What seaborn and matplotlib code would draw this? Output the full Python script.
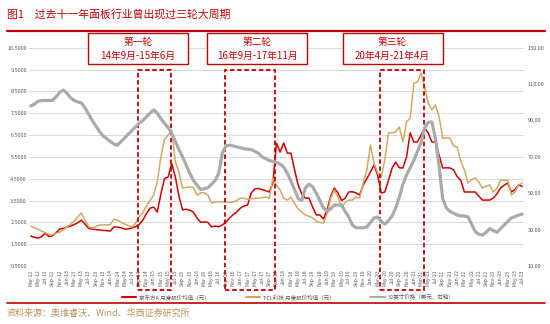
import numpy as np
import pandas as pd
import matplotlib
matplotlib.use('Agg')
import matplotlib.pyplot as plt
import seaborn as sns
from matplotlib import transforms
from matplotlib.patches import Rectangle
from matplotlib.lines import Line2D

sns.set_theme(style='white')
plt.rcParams['font.family'] = ['Noto Sans CJK SC', 'DejaVu Sans']
plt.rcParams['axes.unicode_minus'] = False

# monthly categories Mar-12 .. Jul-23
months = pd.date_range('2012-03-01', periods=137, freq='MS').strftime('%b-%y').tolist()

boe = [1.87, 1.82, 1.78, 1.85, 2.00, 1.85, 1.88, 2.02, 2.19, 2.22,
       2.29, 2.33, 2.40, 2.48, 2.60, 2.42, 2.22, 2.19, 2.17, 2.15,
       2.13, 2.12, 2.10, 2.29, 2.28, 2.25, 2.19, 2.20, 2.24, 2.30,
       2.40, 2.60, 2.90, 3.15, 3.20, 2.97, 3.80, 4.50, 4.58, 5.20,
       4.58, 3.70, 3.07, 3.10, 3.05, 2.97, 2.70, 2.50, 2.52, 2.50,
       2.29, 2.33, 2.30, 2.38, 2.50, 2.70, 2.85, 2.97, 3.15, 3.25,
       3.29, 3.84, 4.03, 4.05, 4.00, 3.95, 3.89, 4.30, 6.13, 5.72,
       6.13, 5.67, 5.67, 4.90, 4.21, 3.80, 3.61, 3.61, 3.20, 2.84,
       2.84, 2.65, 3.07, 3.70, 4.07, 3.85, 3.50, 3.60, 3.89, 3.90,
       3.85, 3.75, 4.21, 4.50, 4.80, 5.12, 4.66, 3.84, 3.89, 4.43,
       4.99, 5.26, 5.00, 4.99, 5.50, 6.60, 6.18, 6.18, 6.50, 6.82,
       6.60, 6.18, 6.18, 5.58, 4.99, 5.00, 4.99, 4.90, 4.60, 4.43,
       3.89, 3.89, 3.89, 3.89, 3.70, 3.52, 3.52, 3.52, 3.61, 3.80,
       4.07, 4.20, 4.30, 3.89, 4.00, 4.21, 4.15]

tcl = [2.33, 2.25, 2.18, 2.10, 2.02, 1.95, 1.92, 2.00, 2.05, 2.15,
       2.30, 2.40, 2.55, 2.75, 2.93, 2.60, 2.30, 2.24, 2.30, 2.38,
       2.38, 2.38, 2.40, 2.65, 2.60, 2.50, 2.42, 2.35, 2.29, 2.45,
       2.75, 2.95, 3.25, 3.50, 3.75, 4.34, 5.50, 6.30, 6.50, 6.73,
       5.26, 4.80, 4.07, 4.10, 4.12, 4.10, 3.75, 3.85, 3.85, 3.75,
       3.38, 3.43, 3.45, 3.43, 3.43, 3.42, 3.43, 3.50, 3.61, 3.60,
       3.55, 3.58, 3.60, 3.61, 3.63, 3.66, 3.60, 4.53, 4.20, 3.98,
       3.60, 3.52, 3.66, 3.38, 3.10, 2.97, 2.84, 2.78, 2.70, 2.55,
       2.50, 2.47, 2.90, 3.61, 3.98, 3.66, 3.20, 3.40, 3.52, 3.52,
       3.66, 3.61, 4.30, 4.90, 6.04, 5.20, 4.76, 4.58, 5.40, 6.59,
       6.60, 6.64, 6.87, 6.18, 7.10, 7.28, 8.88, 8.93, 9.34, 8.70,
       7.96, 7.65, 7.87, 7.33, 6.36, 6.36, 6.36, 6.00, 5.95, 5.30,
       4.90, 4.30, 4.45, 4.53, 4.34, 4.07, 4.15, 4.21, 3.89, 4.05,
       4.43, 4.43, 4.43, 3.75, 3.89, 4.21, 4.30]

panel = [98, 99, 100.5, 101, 101, 101, 101, 103, 105.5, 106.7,
         105, 102.5, 101, 100.2, 99.6, 97, 93.5, 90, 87, 84,
         81.5, 80, 78.5, 77, 76.5, 78.5, 80.5, 82.5, 84.5, 86.5,
         88.5, 90, 92, 94, 95.8, 94, 91, 88.5, 86, 83,
         78.5, 74, 70, 65.5, 61, 57, 54.5, 52, 52.5, 53,
         55, 57, 61, 72, 76, 76.5, 76, 75.5, 75, 74.5,
         74.2, 74, 73, 72, 70, 69, 68, 67.5, 67, 66,
         64.4, 61, 56.5, 52, 47, 46, 53, 55, 53.5, 50,
         46, 42, 40, 41.5, 43.5, 43.5, 43.5, 40, 37, 32.5,
         31, 31, 31, 31.4, 34, 36.4, 37, 34.5, 33, 35,
         37.5, 42, 48, 55, 60, 64, 68, 73, 77.6, 86,
         89, 89.2, 80, 65, 47, 42, 40, 39, 38, 37.5,
         37.5, 37, 33, 29, 27.5, 27, 28.5, 30.5, 29.5, 28.5,
         30.5, 32.5, 34.5, 36.4, 37.2, 38, 38.5]

series_names = ['京东方A 月度股价均值（元）', 'TCL科技 月度股价均值（元）', '32英寸价格（美元，右轴）']
left_ticks = [0.5, 1.5, 2.5, 3.5, 4.5, 5.5, 6.5, 7.5, 8.5, 9.5, 10.5]
right_ticks = [10, 30, 50, 70, 90, 110, 130]
cycles = [('第一轮', '14年9月-15年6月', 'Sep-14', 'Jun-15'),
          ('第二轮', '16年9月-17年11月', 'Sep-16', 'Nov-17'),
          ('第三轮', '20年4月-21年4月', 'Apr-20', 'Apr-21')]

df = pd.DataFrame({'idx': np.arange(len(months)), 'boe': boe, 'tcl': tcl, 'panel': panel})

RED = '#D00000'
TAN = '#D2A865'
GRAY = '#AAAAAA'
DARKRED = '#C00000'

W, H = 550, 324
fig = plt.figure(figsize=(W / 100, H / 100), dpi=100)
fig.patch.set_facecolor('white')

def fx(px):
    return px / W

def fy(py):
    return 1 - py / H

ax_l, ax_r, ax_t, ax_b = 29, 524, 47.7, 266
ax = fig.add_axes([fx(ax_l), fy(ax_b), fx(ax_r - ax_l), (ax_b - ax_t) / H])
ax2 = ax.twinx()

sns.lineplot(data=df, x='idx', y='boe', ax=ax, color=RED, lw=1.1, legend=False)
sns.lineplot(data=df, x='idx', y='tcl', ax=ax, color=TAN, lw=1.1, legend=False)
sns.lineplot(data=df, x='idx', y='panel', ax=ax2, color=GRAY, lw=2.3, legend=False)

ax.set_xlim(-0.5, len(months) - 0.5)
ax.set_ylim(0.5, 10.5)
ax2.set_ylim(10, 130)
ax.set_yticks(left_ticks)
ax.set_yticklabels([f'{v:.4f}' for v in left_ticks])
ax2.set_yticks(right_ticks)
ax2.set_yticklabels([f'{v:.2f}' for v in right_ticks])
ax.set_xticks(np.arange(0, len(months), 2))
ax.set_xticklabels(months[::2], rotation=90)
for a in (ax, ax2):
    a.set_xlabel('')
    a.set_ylabel('')
    for s in a.spines.values():
        s.set_visible(False)
ax.grid(axis='y', color='#D9D9D9', lw=0.7)
ax.grid(axis='x', visible=False)
ax2.grid(False)
ax.tick_params(axis='y', labelsize=4, colors='#595959', length=0, pad=1.5)
ax2.tick_params(axis='y', labelsize=4, colors='#595959', length=0, pad=2.5)
ax.tick_params(axis='x', labelsize=3.6, colors='#595959', length=0, pad=2.5)

# dashed cycle boxes
bt = transforms.blended_transform_factory(ax.transData, fig.transFigure)
box_centers_px = [138, 257, 392.5]
for (t1, t2, s, e), cx in zip(cycles, box_centers_px):
    i0 = months.index(s) - 0.3
    i1 = months.index(e) - 0.3
    ax.add_patch(Rectangle((i0, fy(290)), i1 - i0, fy(70) - fy(290), transform=bt,
                           fill=False, ec=DARKRED, lw=1.3, ls=(0, (2.5, 1.5)), clip_on=False, zorder=5))
    fig.patches.append(Rectangle((fx(cx - 50), fy(64)), fx(100), (64 - 33) / H, transform=fig.transFigure,
                                 fill=True, fc='white', ec=DARKRED, lw=1.0, zorder=6))
    fig.text(fx(cx), fy(42), t1, ha='center', va='center', fontsize=7, color=DARKRED, zorder=7)
    fig.text(fx(cx), fy(56), t2, ha='center', va='center', fontsize=7, color=DARKRED, zorder=7)

# title, rules, source
fig.text(fx(7), fy(14), '图1　过去十一年面板行业曾出现过三轮大周期', ha='left', va='center',
         fontsize=7.8, color=DARKRED)
fig.add_artist(Line2D([fx(7), fx(545)], [fy(31), fy(31)], color=DARKRED, lw=1.6))
fig.add_artist(Line2D([fx(7), fx(545)], [fy(303), fy(303)], color=DARKRED, lw=1.2))
fig.text(fx(7), fy(313), '资料来源：奥维睿沃、Wind、华西证券研究所', ha='left', va='center',
         fontsize=6.5, color='#B8925A')

handles = [Line2D([], [], color=RED, lw=1.5), Line2D([], [], color=TAN, lw=1.5), Line2D([], [], color=GRAY, lw=1.5)]
fig.legend(handles, series_names, ncol=3, loc='center', bbox_to_anchor=(fx(288), fy(297)),
           frameon=False, fontsize=4, handlelength=2.6, columnspacing=6.5, labelcolor='#595959',
           handletextpad=0.5, borderpad=0)

fig.savefig('out.png', dpi=100, facecolor='white')
